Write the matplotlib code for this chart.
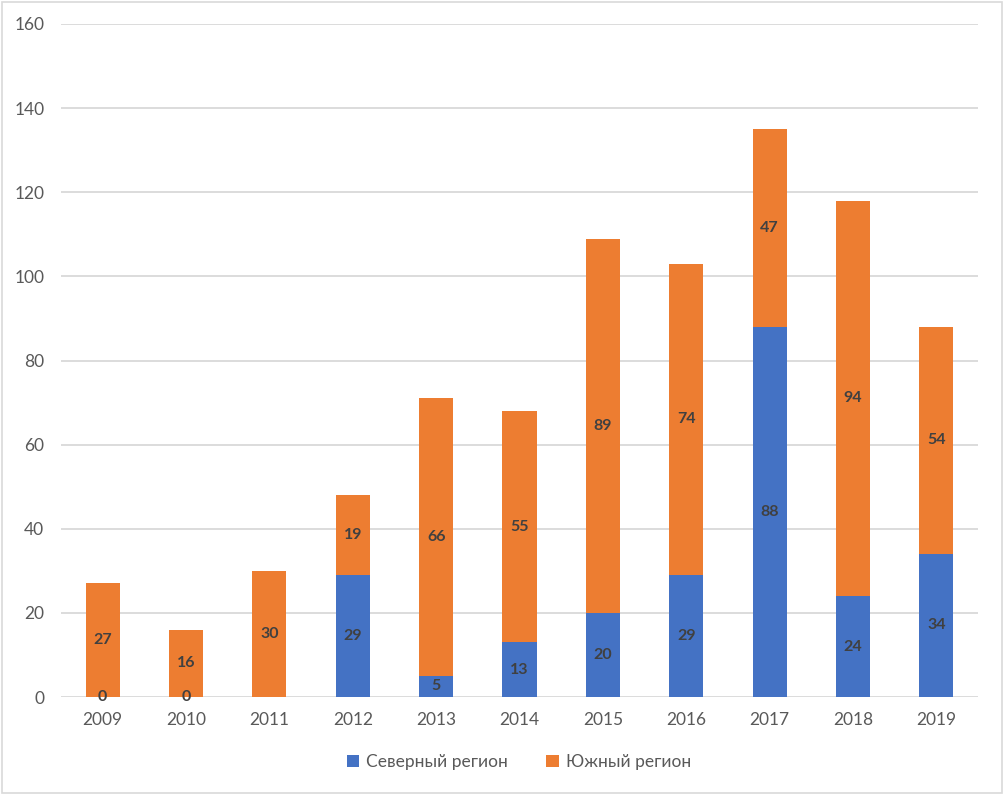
import matplotlib
matplotlib.use("Agg")
import matplotlib.pyplot as plt
from matplotlib.patches import Rectangle

years = ["2009", "2010", "2011", "2012", "2013", "2014", "2015", "2016", "2017", "2018", "2019"]
north = [0, 0, 0, 29, 5, 13, 20, 29, 88, 24, 34]
south = [27, 16, 30, 19, 66, 55, 89, 74, 47, 94, 54]
north_labels = ["0", "0", "", "29", "5", "13", "20", "29", "88", "24", "34"]
south_labels = [str(v) for v in south]
series_names = ["Северный регион", "Южный регион"]
y_ticks = [0, 20, 40, 60, 80, 100, 120, 140, 160]

plt.rcParams['font.family'] = ['Lato', 'DejaVu Sans']

fig = plt.figure(figsize=(10.04, 7.95), dpi=100)
ax = fig.add_axes([61/1004, 98/795, (978-61)/1004, (697-24)/795])

blue = "#4472C4"
orange = "#ED7D31"
x = list(range(len(years)))
w = 0.41
b1 = ax.bar(x, north, width=w, color=blue, label=series_names[0], zorder=3)
b2 = ax.bar(x, south, width=w, bottom=north, color=orange, label=series_names[1], zorder=3)

for i in x:
    if north_labels[i]:
        ax.text(i, north[i] / 2, north_labels[i], ha="center", va="center",
                fontsize=11.5, fontweight="bold", color="#404040", zorder=4)
    ax.text(i, north[i] + south[i] / 2, south_labels[i], ha="center", va="center",
            fontsize=11.5, fontweight="bold", color="#404040", zorder=4)

ax.set_xlim(-0.5, len(years) - 0.5)
ax.set_ylim(0, 160)
ax.set_yticks(y_ticks)
ax.set_yticklabels([str(t) for t in y_ticks])
ax.set_xticks(x)
ax.set_xticklabels(years)
ax.tick_params(axis="both", length=0, labelsize=12.5, colors="#595959")
ax.tick_params(axis="y", pad=12)
ax.tick_params(axis="x", pad=11)
ax.grid(axis="y", color="#d9d9d9", linewidth=1.3, zorder=0)
for s in ax.spines.values():
    s.set_visible(False)

leg = fig.legend(handles=[b1, b2], labels=series_names, loc="center",
                 bbox_to_anchor=(519/1004, 1 - 762/795), ncol=2, frameon=False,
                 fontsize=12.5, handlelength=0.7, handleheight=0.7, columnspacing=2.2,
                 handletextpad=0.4)
for t in leg.get_texts():
    t.set_color("#595959")

fig.patches.append(Rectangle((2/1004, 2/795), 1000/1004, 791/795, transform=fig.transFigure,
                             fill=False, edgecolor="#d9d9d9", linewidth=1.2))

fig.savefig("out.png", dpi=100)
